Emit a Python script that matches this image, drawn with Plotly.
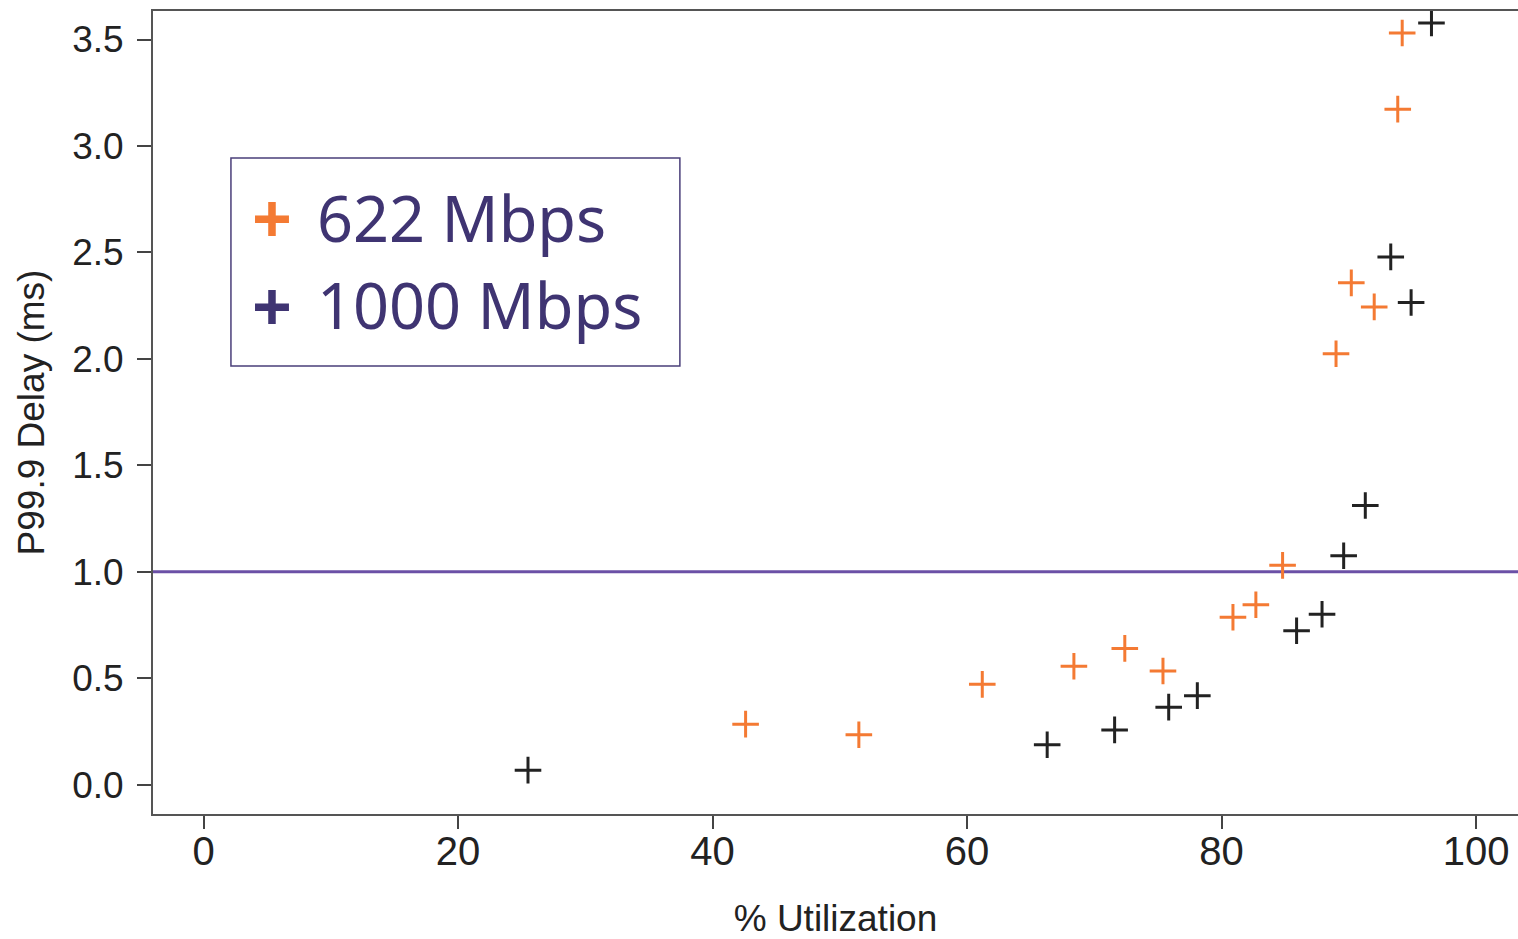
import plotly.graph_objects as go

# Utilization (%) and 99.9th percentile delay (ms) per link speed
util_622 = [42.6, 51.5, 61.2, 68.4, 72.4, 75.4, 80.9, 82.7, 84.8, 89.0, 90.2, 92.0, 93.85, 94.2]
delay_622 = [0.284, 0.234, 0.471, 0.556, 0.640, 0.534, 0.786, 0.845, 1.030, 2.024, 2.357, 2.244, 3.173, 3.531]

util_1000 = [25.5, 66.3, 71.6, 75.85, 78.1, 85.9, 87.9, 89.6, 91.3, 93.3, 94.9, 96.5]
delay_1000 = [0.068, 0.187, 0.257, 0.364, 0.418, 0.723, 0.800, 1.075, 1.311, 2.479, 2.265, 3.578]

x_ticks = [0, 20, 40, 60, 80, 100]
y_ticks = [0.0, 0.5, 1.0, 1.5, 2.0, 2.5, 3.0, 3.5]
threshold_ms = 1.0

ORANGE = "#F47A33"
DARK = "#222222"
PURPLE = "#6B50A6"
LEGEND_TEXT = "#3F3472"

fig = go.Figure()

fig.add_trace(go.Scatter(
    x=util_622, y=delay_622, mode="markers", name="622 Mbps",
    marker=dict(symbol="cross-thin", size=19, line=dict(color=ORANGE, width=3)),
))
fig.add_trace(go.Scatter(
    x=util_1000, y=delay_1000, mode="markers", name="1000 Mbps",
    marker=dict(symbol="cross-thin", size=19, line=dict(color=DARK, width=3)),
))

# 1 ms reference line across the plot
fig.add_shape(type="line", xref="paper", yref="y", x0=0, x1=1,
              y0=threshold_ms, y1=threshold_ms,
              line=dict(color=PURPLE, width=3), layer="below")

# Boxed legend
fig.add_shape(type="rect", xref="paper", yref="paper",
              x0=0.0571, x1=0.386, y0=0.558, y1=0.817,
              line=dict(color="#4A3F7A", width=1.5), fillcolor="white")

legend_rows = [("622 Mbps", ORANGE, 0.743), ("1000 Mbps", LEGEND_TEXT, 0.634)]
for label, col, yp in legend_rows:
    fig.add_annotation(xref="paper", yref="paper", x=0.0874, y=yp,
                       xanchor="center", yanchor="middle", showarrow=False,
                       text="<b>+</b>", font=dict(family="Noto Sans", size=70, color=col))
    fig.add_annotation(xref="paper", yref="paper", x=0.1185, y=yp,
                       xanchor="left", yanchor="middle", showarrow=False,
                       text=label, font=dict(family="Noto Sans", size=63, color=LEGEND_TEXT))

FAMILY = "Liberation Sans, Arial, sans-serif"
x_font = dict(family=FAMILY, size=40, color=DARK)
y_font = dict(family=FAMILY, size=37, color=DARK)
title_font = dict(family=FAMILY, size=37, color=DARK)

fig.update_layout(
    width=1518, height=939,
    margin=dict(l=153, r=0, t=11, b=123),
    paper_bgcolor="white", plot_bgcolor="white",
    showlegend=False,
    font=y_font,
)

fig.update_xaxes(
    range=[-3.97, 103.3], tickvals=x_ticks, ticktext=[str(v) for v in x_ticks],
    showgrid=False, zeroline=False,
    showline=True, linecolor="#555555", linewidth=2, mirror=True,
    ticks="outside", ticklen=13, tickwidth=2, tickcolor="#444444",
    tickfont=x_font, ticklabelstandoff=-12,
    title=dict(text="% Utilization", font=title_font, standoff=40),
)
fig.update_yaxes(
    range=[-0.138, 3.634], tickvals=y_ticks, ticktext=[f"{v:.1f}" for v in y_ticks],
    showgrid=False, zeroline=False,
    showline=True, linecolor="#555555", linewidth=2, mirror=False,
    ticks="outside", ticklen=14, tickwidth=2, tickcolor="#444444",
    tickfont=y_font, ticklabelstandoff=6,
    title=dict(text="P99.9 Delay (ms)", font=title_font, standoff=16),
)

fig.write_html("out.html")
